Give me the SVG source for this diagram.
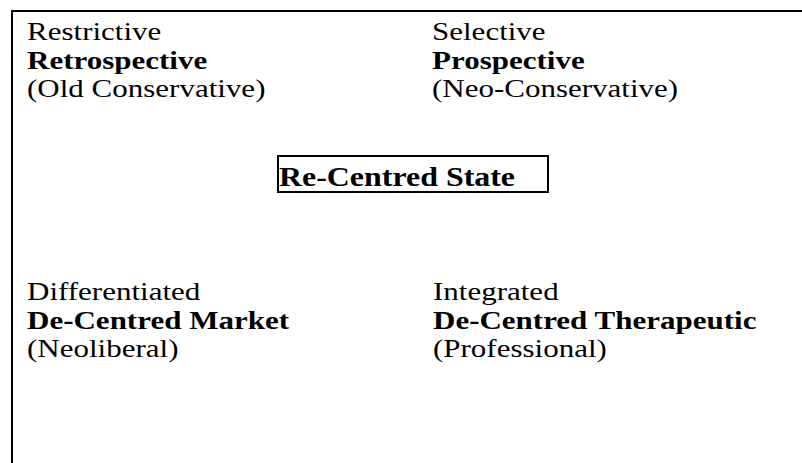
<svg xmlns="http://www.w3.org/2000/svg" width="802" height="463" viewBox="0 0 802 463">
<style>
text{font-family:"Liberation Serif","Times New Roman",serif;font-size:25px;fill:#000}
.b{font-weight:bold}
.frame{fill:none;stroke:#000;stroke-width:2}
</style>
<rect width="802" height="463" fill="#fff"/>
<g id="frame">
<path class="frame" d="M12,463 V11 H802"/>
</g>
<g id="connectors"></g>
<g id="retrospective" transform="scale(1.24 1)">
<text x="21.8" y="40.5">Restrictive</text>
<text x="21.8" y="69" class="b">Retrospective</text>
<text x="21.8" y="97.5">(Old Conservative)</text>
</g>
<g id="prospective" transform="scale(1.24 1)">
<text x="348.4" y="40.5">Selective</text>
<text x="348.4" y="69" class="b">Prospective</text>
<text x="348.4" y="97.5">(Neo-Conservative)</text>
</g>
<g id="recentred">
<rect class="frame" x="278" y="156" width="270" height="36"/>
<text x="279" y="186" class="b" style="font-size:28px" textLength="236" lengthAdjust="spacingAndGlyphs">Re-Centred State</text>
</g>
<g id="market" transform="scale(1.24 1)">
<text x="21.8" y="300.5">Differentiated</text>
<text x="21.8" y="329" class="b">De-Centred Market</text>
<text x="21.8" y="357.5">(Neoliberal)</text>
</g>
<g id="therapeutic" transform="scale(1.24 1)">
<text x="349.2" y="300.5">Integrated</text>
<text x="349.2" y="329" class="b">De-Centred Therapeutic</text>
<text x="349.2" y="357.5">(Professional)</text>
</g>
</svg>
